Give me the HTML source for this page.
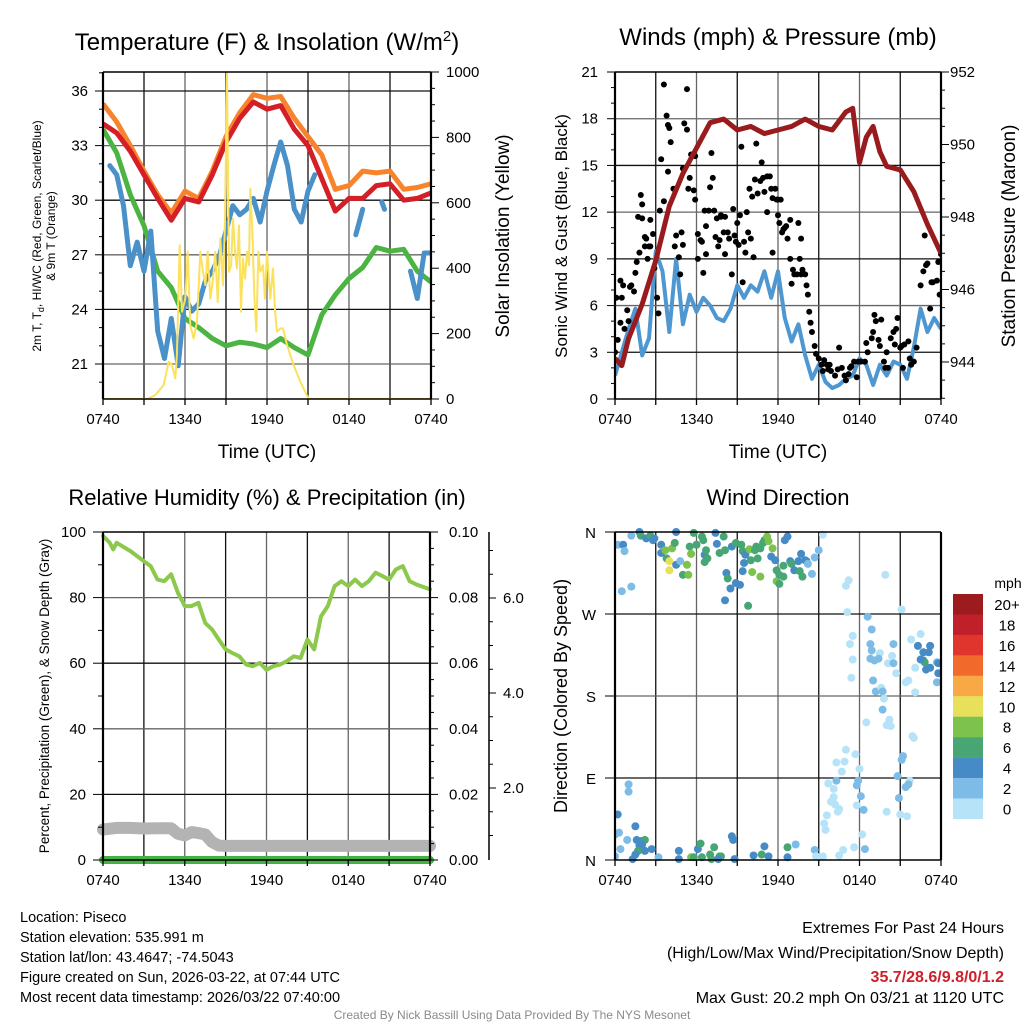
<!DOCTYPE html>
<html><head><meta charset="utf-8"><style>
html,body{margin:0;padding:0;background:#fff;}
#root{position:relative;width:1024px;height:1024px;overflow:hidden;font-family:"Liberation Sans",Arial,sans-serif;}
svg text{font-family:"Liberation Sans",Arial,sans-serif;}
</style></head><body>
<div id="root">
<svg id="svg" width="1024" height="1024" xmlns="http://www.w3.org/2000/svg"></svg>
</div>
<script>
// ---------------- DATA ----------------
const timeTicks = ["0740","1340","1940","0140","0740"];
const tempHours = [0,1,2,3,4,5,6,7,8,9,10,11,12,13,14,15,16,17,18,19,20,21,22,23,24];
const tempRed = [34.2,33.7,32.7,31.4,30.1,28.9,30.1,29.9,31.4,33.2,34.5,35.4,35.0,35.2,33.9,33.0,31.2,29.4,30.1,30.1,30.8,30.9,30.0,30.1,30.4];
const tempOrange = [35.3,34.3,33.0,31.6,30.3,29.3,30.5,30.1,31.6,33.5,34.8,35.8,35.6,35.7,34.5,33.5,32.5,30.6,30.8,31.6,31.5,31.6,30.6,30.7,30.9];
const tempGreen = [33.9,32.6,30.3,28.6,26.1,25.2,23.5,23.0,22.4,22.0,22.2,22.1,21.9,22.4,21.9,21.5,23.7,24.8,25.7,26.3,27.4,27.2,27.3,26.1,25.5];
const blueHours = [0.5,1,1.5,2,2.5,3,3.5,4,4.5,5,5.5,6,6.5,7,7.5,8,8.5,9,9.5,10,10.5,11,11.5,12,12.5,13,13.5,14,14.5,15,15.5,16,18.5,19,19.5,20.4,20.6,21,22.5,23,23.5,24];
const tempBlue = [31.9,31.4,29.7,26.4,27.7,26.1,28.3,22.8,21.3,23.5,20.9,24.7,23.9,24.3,25.6,26.1,26.9,28.3,29.7,29.2,29.5,30.1,28.8,30.5,31.9,33.2,31.9,29.5,28.8,30.5,31.4,null,28.1,29.5,null,29.9,29.5,null,26.1,24.6,27.1,27.1];
const insHours = [0,3.22,3.83,4.44,4.80,5.05,5.29,5.41,5.61,5.78,6.02,6.20,6.39,6.63,6.88,7.12,7.32,7.49,7.66,7.85,8.05,8.22,8.39,8.59,8.78,8.93,9.07,9.22,9.37,9.51,9.66,9.80,9.95,10.10,10.24,10.39,10.54,10.68,10.78,10.93,11.07,11.22,11.37,11.51,11.71,11.85,12.0,12.24,12.44,12.59,12.73,12.98,13.17,13.46,13.95,14.44,15.05,24];
const insValues = [0,0,12,43,114,104,63,134,470,267,307,450,226,185,236,450,389,348,450,307,368,450,297,491,348,542,1000,389,409,552,450,399,531,267,430,368,450,409,643,511,318,206,450,389,409,307,450,307,399,267,206,216,216,165,104,53,0,0];
const presHours = [0,0.5,1,2,3,4,5,6,7,8,9,10,11,12,13,14,15,16,17,17.5,18,18.5,19,19.5,20,21,22,23,24];
const presValues = [944.1,943.9,944.65,945.6,946.8,948.3,949.2,949.9,950.6,950.7,950.4,950.5,950.3,950.4,950.5,950.7,950.5,950.4,950.9,951.0,949.5,950.2,950.5,949.8,949.4,949.3,948.7,947.8,947.0];
const windHours = [0,0.5,1,1.5,2,2.5,3,3.5,4,4.5,5,5.5,6,6.5,7,7.5,8,8.5,9,9.5,10,10.5,11,11.5,12,12.5,13,13.5,14,14.5,15,15.5,16,16.5,17,17.5,18,18.5,19,19.5,20,20.5,21,21.5,22,22.5,23,23.5,24];
const windValues = [1.5,3.0,4.5,5.8,2.8,3.9,9.5,8.2,4.3,9.0,4.8,6.7,5.6,6.5,6.0,5.2,5.0,5.8,7.3,6.5,7.3,6.9,8.2,6.5,8.2,5.2,3.7,4.8,2.8,1.3,2.2,1.1,0.7,0.9,1.3,1.5,2.6,2.2,0.9,2.2,1.5,2.4,2.2,1.3,3.3,5.8,4.3,5.2,4.5];
const gustHours = [0.0,0.1,0.2,0.4,0.4,0.5,0.6,0.7,0.9,1.0,1.1,1.2,1.4,1.5,1.6,1.7,1.8,1.9,2.0,2.0,2.2,2.2,2.3,2.4,2.5,2.6,2.6,2.8,2.9,3.1,3.2,3.3,3.4,3.6,3.6,3.8,3.9,3.9,4.0,4.1,4.3,4.4,4.5,4.7,4.8,4.9,5.0,5.0,5.1,5.3,5.3,5.4,5.5,5.6,5.8,5.9,5.9,6.1,6.1,6.3,6.4,6.5,6.6,6.7,6.7,6.9,7.0,7.1,7.2,7.3,7.4,7.5,7.6,7.7,7.8,7.8,8.0,8.1,8.1,8.3,8.4,8.6,8.7,8.8,8.9,9.0,9.1,9.2,9.3,9.4,9.5,9.6,9.7,9.8,9.9,10.0,10.1,10.2,10.3,10.4,10.5,10.7,10.8,10.9,11.0,11.2,11.2,11.4,11.5,11.6,11.6,11.8,11.9,12.0,12.0,12.1,12.2,12.3,12.4,12.5,12.6,12.7,12.9,12.9,13.0,13.1,13.2,13.4,13.5,13.6,13.7,13.7,13.8,14.0,14.1,14.2,14.3,14.4,14.5,14.7,14.8,15.0,15.2,15.3,15.4,15.6,15.7,15.8,15.9,16.2,16.4,16.5,16.7,16.9,17.0,17.2,17.3,17.4,17.6,17.8,17.9,18.1,18.4,18.5,18.6,18.9,19.0,19.1,19.2,19.4,19.5,19.6,19.8,19.9,20.0,20.1,20.3,20.5,20.6,20.7,20.8,21.0,21.1,21.2,21.3,21.6,21.7,21.8,22.0,22.2,22.5,22.7,22.8,22.9,23.0,23.2,23.3,23.4,23.7,23.8,23.9,24.0];
const gustValues = [3.0,6.5,3.8,4.9,7.6,6.5,7.3,4.5,5.7,5.0,7.2,7.3,6.9,8.1,8.8,11.7,9.4,13.1,12.5,11.6,9.8,10.4,10.3,9.0,9.8,9.8,11.5,10.6,8.4,6.5,5.5,12.1,15.4,12.7,20.2,18.2,14.6,17.6,17.4,16.5,13.5,9.8,10.5,9.1,8.0,10.7,14.8,9.9,17.7,19.9,17.3,13.5,14.2,15.7,13.4,15.6,12.8,10.6,9.0,10.2,10.1,8.1,12.1,9.3,11.1,12.1,13.6,15.8,14.2,12.1,10.4,11.6,9.8,10.2,11.7,11.8,10.7,11.7,9.3,10.7,10.3,8.0,12.2,10.5,10.1,11.3,9.9,11.8,16.2,7.5,10.1,9.4,12.0,10.7,13.5,10.3,13.0,9.1,14.1,16.4,13.2,14.0,15.2,14.2,13.3,12.0,14.3,14.3,13.5,9.4,12.9,13.5,12.8,11.8,12.8,11.3,12.8,10.7,10.9,11.0,11.1,10.3,9.0,11.5,7.4,8.3,8.0,8.0,11.3,9.0,8.0,10.3,8.3,8.0,7.3,6.7,5.6,4.9,4.3,3.4,2.9,2.6,2.2,1.8,2.5,2.2,1.9,2.2,1.8,1.5,1.9,3.3,2.0,1.5,1.2,1.6,2.0,2.1,2.4,1.4,2.4,2.4,2.4,3.6,3.0,3.9,4.3,5.4,5.0,3.8,3.4,5.1,2.4,2.0,3.0,2.0,3.9,4.3,3.5,4.5,5.2,3.3,3.4,2.0,3.5,3.7,2.6,2.2,2.4,3.3,7.3,8.2,10.5,8.6,8.7,5.8,7.5,7.5,7.6,8.8,6.7,9.3];
const rhHours = [0,0.5,0.75,1,2,3,3.5,4,4.5,5,5.5,6,6.5,7,7.5,8,8.5,9,9.5,10,10.5,11,11.5,12,12.5,13,13.5,14,14.5,15,15.5,16,16.5,17,17.5,18,18.5,19,19.5,20,20.5,21,21.5,22,22.5,23,24];
const rhValues = [98.8,96.7,94.7,96.7,94.2,91.1,89.6,85.5,85.0,87.1,81.5,77.4,77.4,78.4,72.3,70.3,67.2,64.2,63.1,62.1,59.6,59.1,60.1,58.0,59.1,59.6,60.6,62.1,61.6,67.2,64.2,74.3,77.4,83.5,85.0,83.5,85.5,83.5,85.0,87.6,86.6,85.5,88.6,89.6,85.0,84.0,82.5];
const snowHours = [0,1,2,3,4,5,5.5,6,6.5,7,7.5,8,8.5,9,24];
const snowValues = [9.3,9.8,9.8,9.6,9.7,9.7,8.0,7.5,8.5,8.2,7.8,5.5,4.4,4.3,4.3];
const precipHours = [0,24];
const precipValues = [0,0];
const dirHours = [0.2,0.6,0.7,1.2,1.8,1.9,2.3,2.6,2.8,2.9,3.4,3.4,3.7,3.8,4.0,4.0,4.2,4.4,4.5,4.5,4.8,5.0,5.3,5.4,5.5,5.6,5.8,6.0,6.4,6.5,6.6,6.7,6.8,6.6,7.4,7.5,7.7,8.0,8.1,8.2,8.3,8.6,8.9,8.9,9.2,9.3,9.4,9.5,9.4,9.6,9.9,10.0,10.1,10.3,10.4,10.5,10.7,10.7,10.9,11.0,11.2,11.3,11.5,11.6,11.8,11.9,11.9,12.1,12.1,12.4,12.4,12.5,12.7,12.9,13.0,13.2,13.5,13.6,13.7,13.8,14.0,14.1,14.2,14.5,14.7,15.0,15.3,0.5,1.2,8.1,9.8,8.5,
17.2,17.0,19.9,21.1,17.1,18.6,18.9,17.5,17.3,17.5,17.4,18.8,18.9,19.5,18.8,19.1,19.4,20.5,20.4,20.1,20.5,20.7,19.0,19.2,19.6,19.7,19.8,19.7,20.2,20.0,20.3,18.5,21.8,22.5,22.3,22.7,23.2,23.1,22.7,22.8,22.5,23.2,23.7,22.9,23.8,23.8,23.7,22.1,21.4,21.6,22.1,
21.9,22.0,21.2,21.1,20.8,21.4,21.7,21.6,20.9,21.5,21.0,20.0,17.0,17.7,16.3,16.9,16.7,18.0,16.3,15.7,16.1,16.1,15.9,16.2,16.5,16.4,17.9,17.8,18.1,17.8,18.3,15.6,15.4,15.5,18.2,17.6,18.4,16.8,16.5,14.7,14.8,15.3,15.0,
1.0,1.0,0.2,0.3,0.0,0.9,1.5,1.6,2.0,2.2,2.0,1.8,1.7,2.2,2.7,1.5,1.3,0.4,0.0,3.2,4.7,4.7,5.6,5.8,6.1,6.3,6.4,7.0,7.1,7.3,7.7,7.8,7.6,8.6,8.7,8.8,10.2,10.8,11.0,11.3,12.7,12.7,13.3];
const dirDegrees = [346,346,339,356,360,356,353,356,351,353,346,337,340,331,328,318,342,348,324,360,328,313,324,313,344,336,359,346,355,351,335,340,331,327,359,347,337,355,340,315,309,344,348,304,302,346,339,326,317,335,341,329,316,340,344,331,342,311,348,351,355,350,333,342,329,318,306,313,303,311,323,351,355,328,325,318,328,317,336,311,329,328,325,314,332,340,357,295,300,285,279,298,
307,301,313,275,272,267,253,246,237,220,200,237,230,227,221,219,221,237,224,216,216,205,197,185,189,185,177,165,154,148,147,151,242,248,235,228,235,228,219,217,220,211,217,209,216,205,195,211,195,197,184,
136,134,114,110,92,80,87,83,68,48,50,53,121,116,107,108,97,100,87,84,78,69,64,61,56,53,87,82,70,60,55,49,40,33,28,14,12,11,5,11,4,4,3,
83,75,50,30,28,22,37,22,21,22,17,16,10,10,12,6,1,12,4,3,10,1,3,3,12,18,3,6,1,14,4,4,1,26,22,1,5,6,15,4,14,3,17];
const dirSpeeds = [3,5,3,3,5,7,5,7,5,5,5,5,9,7,11,11,9,7,5,5,3,7,9,9,7,9,7,7,7,7,5,7,7,7,5,5,7,7,7,5,7,5,7,5,5,7,7,5,5,5,9,7,9,7,7,7,7,9,7,7,9,9,5,9,5,7,9,7,7,7,7,5,5,5,7,5,5,7,5,7,5,5,3,3,3,3,1,3,3,5,7,5,
1,1,1,1,1,3,3,1,1,1,1,3,3,1,3,3,3,3,1,1,3,1,3,3,1,3,1,3,1,1,1,1,1,1,5,5,5,5,5,7,5,5,3,5,5,5,3,1,1,1,1,
1,1,3,3,3,3,1,3,3,1,1,1,1,1,1,1,1,1,3,1,1,1,1,1,1,1,3,3,3,1,3,1,1,1,1,1,3,1,1,3,1,1,1,
3,3,5,3,3,3,5,5,5,7,5,5,7,5,5,5,5,3,3,3,5,5,9,7,5,7,7,7,7,7,7,7,5,5,5,5,5,7,5,5,7,5,3];
const speedBins = ["20+","18","16","14","12","10","8","6","4","2","0"];
const binColors = ["#9b1b1e","#c0202a","#e0352c","#f26a2b","#f9a846","#e8e05a","#7cc24c","#47a673","#478bc6","#7dbce6","#b6e3f8"];

// ---------------- HELPERS ----------------
const svg = document.getElementById('svg');
const NS = 'http://www.w3.org/2000/svg';
function el(tag, attrs, parent){
  const e = document.createElementNS(NS, tag);
  for (const k in attrs) e.setAttribute(k, attrs[k]);
  (parent||svg).appendChild(e);
  return e;
}
function txt(s, x, y, size, anchor, parent, extra){
  const t = el('text', Object.assign({x:x, y:y, 'font-size':size, 'text-anchor':anchor||'middle', fill:'#000'}, extra||{}), parent);
  t.textContent = s;
  return t;
}
function linScale(d0,d1,r0,r1){ return v => r0 + (v-d0)*(r1-r0)/(d1-d0); }
function pathFrom(xs, ys, sx, sy){
  let d = '', pen = false;
  for (let i=0;i<xs.length;i++){
    if (ys[i]===null || ys[i]===undefined){ pen=false; continue; }
    d += (pen?'L':'M') + sx(xs[i]).toFixed(1) + ',' + sy(ys[i]).toFixed(1);
    pen = true;
  }
  return d;
}
function panelFrame(g, x0, x1, y0, y1, hGrid){
  for (let h=3; h<24; h+=3){
    const x = x0 + h*(x1-x0)/24;
    const ln = el('line',{x1:x,x2:x,y1:y0,y2:y1,stroke:(h%6===0)?'#666':'#111','stroke-width':1.3}, g);
    
    
  }
  hGrid.forEach((y,i)=>{
    const ln = el('line',{x1:x0,x2:x1,y1:y,y2:y,stroke:(i%2)?'#666':'#111','stroke-width':1.3}, g);
    
    
  });
}
function xAxis(g, x0, x1, yb){
  for (let h=0; h<=24; h+=3){
    const x = x0 + h*(x1-x0)/24;
    el('line',{x1:x,x2:x,y1:yb,y2:yb+6,stroke:'#000','stroke-width':1.3}, g);
  }
  timeTicks.forEach((s,i)=>{
    const t = txt(s, x0 + i*6*(x1-x0)/24, yb+25, 15, 'middle', g);
    
    
  });
}
function border(g,x0,x1,y0,y1){
  el('line',{x1:x0,x2:x0,y1:y0,y2:y1,stroke:'#000','stroke-width':2.2},g);
  el('line',{x1:x1,x2:x1,y1:y0,y2:y1,stroke:'#000','stroke-width':2.2},g);
  el('line',{x1:x0,x2:x1,y1:y1,y2:y1,stroke:'#000','stroke-width':1.5},g);
  el('line',{x1:x0,x2:x1,y1:y0,y2:y0,stroke:'#000','stroke-width':1.5},g);
}

// ================= PANEL 1: Temperature =================
(function(){
  const g = el('g',{});  
  const X0=103,X1=431,Y0=72,Y1=399;
  const sx = linScale(0,24,X0,X1);
  const sy = linScale(36,21,91,364);
  const si = linScale(0,1000,399,72);
  const tickT=[36,33,30,27,24,21], tickI=[0,200,400,600,800,1000];
  panelFrame(g,X0,X1,Y0,Y1,tickT.map(sy));
  const clip = el('clipPath',{id:'c1'}); el('rect',{x:X0,y:Y0,width:X1-X0,height:Y1-Y0},clip);
  const pg = el('g',{'clip-path':'url(#c1)'},g);
  const lg = el('path',{d:pathFrom(tempHours,tempGreen,sx,sy),fill:'none',stroke:'#4bb442','stroke-width':5,'stroke-linejoin':'round'},pg);
   
  const lo = el('path',{d:pathFrom(tempHours,tempOrange,sx,sy),fill:'none',stroke:'#f7842d','stroke-width':5,'stroke-linejoin':'round'},pg);
   
  const lr = el('path',{d:pathFrom(tempHours,tempRed,sx,sy),fill:'none',stroke:'#d51f27','stroke-width':5,'stroke-linejoin':'round'},pg);
   
  const lb = el('path',{d:pathFrom(blueHours,tempBlue,sx,sy),fill:'none',stroke:'#4a90c9','stroke-width':5,'stroke-linejoin':'round','stroke-linecap':'round'},pg);
   
  const ly = el('path',{d:pathFrom(insHours,insValues,sx,si),fill:'none',stroke:'#fbe15c','stroke-width':2,'stroke-linejoin':'round'},pg);
   
  border(g,X0,X1,Y0,Y1);
  for (let v=20; v<=37; v++){ const y=sy(v); if(y<Y0||y>Y1) continue; el('line',{x1:X0-(v%3===0?8:4),x2:X0,y1:y,y2:y,stroke:'#000','stroke-width':1},g); }
  tickT.forEach(v=>{ const t=txt(String(v),88,sy(v)+5,15,'end',g);   });
  for (let v=0; v<=1000; v+=50){ el('line',{x1:X1,x2:X1+(v%200===0?8:4),y1:si(v),y2:si(v),stroke:'#000','stroke-width':1},g); }
  tickI.forEach(v=>{ const t=txt(String(v),446,si(v)+5,15,'start',g);   });
  xAxis(g,X0,X1,Y1);
  const tt = el('text',{x:267,y:50,'font-size':24,'text-anchor':'middle'},g);
   
  tt.innerHTML = 'Temperature (F) &amp; Insolation (W/m<tspan dy="-9" font-size="15">2</tspan><tspan dy="9">)</tspan>';
  const xt = txt('Time (UTC)',267,458,19,'middle',g);  
  const yl = el('text',{transform:'translate(41,236) rotate(-90)','font-size':12,'text-anchor':'middle'},g);
   
  yl.innerHTML = '2m T, T<tspan dy="3" font-size="9">d</tspan><tspan dy="-3">, HI/WC (Red, Green, Scarlet/Blue)</tspan>';
  const yl2 = txt('& 9m T (Orange)',0,0,12,'middle',g,{transform:'translate(55,236) rotate(-90)'});
   
  const yr = txt('Solar Insolation (Yellow)',0,0,19,'middle',g,{transform:'translate(509,236) rotate(-90)'});
   
})();

// ================= PANEL 2: Winds =================
(function(){
  const g = el('g',{});  
  const X0=615,X1=941,Y0=72,Y1=399;
  const sx = linScale(0,24,X0,X1);
  const sy = linScale(0,21,399,72);
  const sp = linScale(944,952,362,72);
  const tickW=[0,3,6,9,12,15,18,21], tickP=[944,946,948,950,952];
  panelFrame(g,X0,X1,Y0,Y1,[3,6,9,12,15,18].map(sy));
  const clip = el('clipPath',{id:'c2'}); el('rect',{x:X0,y:Y0,width:X1-X0,height:Y1-Y0},clip);
  const pg = el('g',{'clip-path':'url(#c2)'},g);
  const lw = el('path',{d:pathFrom(windHours,windValues,sx,sy),fill:'none',stroke:'#4f97d1','stroke-width':4,'stroke-linejoin':'round'},pg);
   
  gustHours.forEach((h,i)=>{
    const c = el('circle',{cx:sx(h),cy:sy(gustValues[i]),r:3,fill:'#000'},pg);
     
  });
  const lp = el('path',{d:pathFrom(presHours,presValues,sx,sp),fill:'none',stroke:'#991b1e','stroke-width':5,'stroke-linejoin':'round'},pg);
   
  border(g,X0,X1,Y0,Y1);
  for (let v=0; v<=21; v++){ el('line',{x1:X0-(v%3===0?8:4),x2:X0,y1:sy(v),y2:sy(v),stroke:'#000','stroke-width':1},g); }
  tickW.forEach(v=>{ const t=txt(String(v),598,sy(v)+5,15,'end',g);   });
  for (let v=943; v<=952; v+=0.5){ const y=sp(v); if(y>Y1) continue; el('line',{x1:X1,x2:X1+(v%2===0?8:4),y1:y,y2:y,stroke:'#000','stroke-width':1},g); }
  tickP.forEach(v=>{ const t=txt(String(v),950,sp(v)+5,15,'start',g);   });
  xAxis(g,X0,X1,Y1);
  const tt = txt('Winds (mph) & Pressure (mb)',778,45,24,'middle',g);  
  const xt = txt('Time (UTC)',778,458,19,'middle',g);  
  const yl = txt('Sonic Wind & Gust (Blue, Black)',0,0,17,'middle',g,{transform:'translate(567,236) rotate(-90)'});
   
  const yr = txt('Station Pressure (Maroon)',0,0,19,'middle',g,{transform:'translate(1015,236) rotate(-90)'});
   
})();

// ================= PANEL 3: RH =================
(function(){
  const g = el('g',{});  
  const X0=103,X1=430,Y0=532,Y1=860;
  const sx = linScale(0,24,X0,X1);
  const sy = linScale(0,100,860,532);
  const sr = linScale(0,0.10,860,532);
  const ss = linScale(2,6,788,598);
  const tickR=[0,20,40,60,80,100], tickPr=["0.00","0.02","0.04","0.06","0.08","0.10"], tickS=["2.0","4.0","6.0"];
  panelFrame(g,X0,X1,Y0,Y1,[20,40,60,80].map(sy));
  const clip = el('clipPath',{id:'c3'}); el('rect',{x:X0-8,y:Y0-8,width:X1-X0+16,height:Y1-Y0+16},clip);
  const pg = el('g',{'clip-path':'url(#c3)'},g);
  const ls = el('path',{d:pathFrom(snowHours,snowValues,sx,sy),fill:'none',stroke:'#b3b3b3','stroke-width':12,'stroke-linejoin':'round','stroke-linecap':'round'},pg);
   
  const lpp = el('path',{d:pathFrom(precipHours,precipValues,sx,sr),fill:'none',stroke:'#45b044','stroke-width':8,'stroke-linecap':'round'},pg);
   
  const lh = el('path',{d:pathFrom(rhHours,rhValues,sx,sy),fill:'none',stroke:'#8cc84b','stroke-width':4,'stroke-linejoin':'round','stroke-linecap':'round'},pg);
   
  border(g,X0,X1,Y0,Y1);
  for (let v=0; v<=100; v+=10){ el('line',{x1:X0-(v%20===0?10:5),x2:X0,y1:sy(v),y2:sy(v),stroke:'#000','stroke-width':1},g); }
  tickR.forEach(v=>{ const t=txt(String(v),86,sy(v)+5,15,'end',g);   });
  for (let i=0;i<=20;i++){ const v=i*0.005; el('line',{x1:X1,x2:X1+(i%4===0?8:4),y1:sr(v),y2:sr(v),stroke:'#000','stroke-width':1},g); }
  tickPr.forEach(s=>{ const t=txt(s,449,sr(parseFloat(s))+5,15,'start',g);   });
  const sa = el('line',{x1:489,x2:489,y1:532,y2:860,stroke:'#000','stroke-width':1.5},g);
   
  for (let v=1.0; v<=7.4; v+=0.5){ const y=ss(v); if(y<532||y>860) continue; el('line',{x1:489,x2:489+(Math.abs(v%2)<0.01?7:4),y1:y,y2:y,stroke:'#000','stroke-width':1},g); }
  tickS.forEach(s=>{ const t=txt(s,503,ss(parseFloat(s))+5,15,'start',g);   });
  xAxis(g,X0,X1,Y1);
  const tt = txt('Relative Humidity (%) & Precipitation (in)',267,505,22,'middle',g);  
  const yl = txt('Percent, Precipitation (Green), & Snow Depth (Gray)',0,0,13.5,'middle',g,{transform:'translate(49,696) rotate(-90)'});
   
})();

// ================= PANEL 4: Wind direction =================
(function(){
  const g = el('g',{});  
  const X0=615,X1=941,Y0=532,Y1=860;
  const sx = linScale(0,24,X0,X1);
  const sy = linScale(0,360,860,532);
  const dirLabels=["N","E","S","W","N"];
  panelFrame(g,X0,X1,Y0,Y1,[90,180,270].map(sy));
  const clip = el('clipPath',{id:'c4'}); el('rect',{x:X0,y:Y0-4,width:X1-X0,height:Y1-Y0+8},clip);
  const pg = el('g',{'clip-path':'url(#c4)'},g);
  function colorFor(s){ let i = Math.floor(s/2); if(i>10) i=10; return binColors[10-i]; }
  dirHours.forEach((h,i)=>{
    const c = el('circle',{cx:sx(h),cy:sy(dirDegrees[i]),r:4,fill:colorFor(dirSpeeds[i])},pg);
     
  });
  border(g,X0,X1,Y0,Y1);
  dirLabels.forEach((s,i)=>{
    el('line',{x1:X0-10,x2:X0,y1:sy(i*90),y2:sy(i*90),stroke:'#000','stroke-width':1},g);
    const t=txt(s,596,sy(i*90)+6,15,'end',g);  
  });
  xAxis(g,X0,X1,Y1);
  const tt = txt('Wind Direction',778,505,22,'middle',g);  
  const yl = txt('Direction (Colored By Speed)',0,0,18,'middle',g,{transform:'translate(567,696) rotate(-90)'});
   
  const cb = el('g',{},g);  
  const mt = txt('mph',1008,588,14,'middle',cb);  
  speedBins.forEach((s,i)=>{
    const r = el('rect',{x:953,y:594+i*20.45,width:30,height:20.6,fill:binColors[i]},cb);
     
    const t = txt(s,1007,594+i*20.45+16,15,'middle',cb);  
  });
})();

// ================= Footer text =================
(function(){
  const g = el('g',{});  
  const left = ["Location: Piseco","Station elevation: 535.991 m","Station lat/lon: 43.4647; -74.5043","Figure created on Sun, 2026-03-22, at 07:44 UTC","Most recent data timestamp: 2026/03/22 07:40:00"];
  left.forEach((s,i)=>{ const t=txt(s,20,922+i*20,14.5,'start',g);   });
  const r1 = txt('Extremes For Past 24 Hours',1004,933,16,'end',g);  
  const r2 = txt('(High/Low/Max Wind/Precipitation/Snow Depth)',1004,958,16,'end',g);  
  const r3 = txt('35.7/28.6/9.8/0/1.2',1004,982,16,'end',g,{fill:'#d0202a','font-weight':'bold'});  
  const r4 = txt('Max Gust: 20.2 mph On 03/21 at 1120 UTC',1004,1003,16,'end',g);  
  const c = txt('Created By Nick Bassill Using Data Provided By The NYS Mesonet',512,1019,12,'middle',g,{fill:'#8a8a8a'});  
})();
</script>
</body></html>
